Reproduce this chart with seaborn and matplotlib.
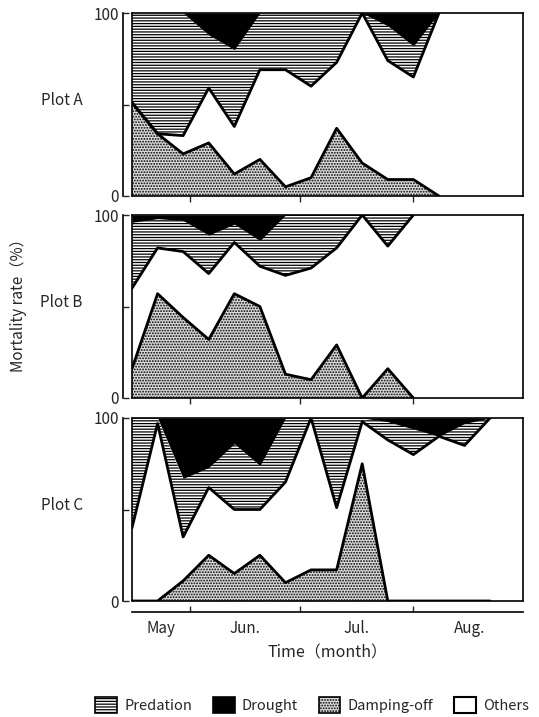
import matplotlib
matplotlib.use("Agg")
import matplotlib.pyplot as plt
from matplotlib.patches import Patch
import pandas as pd
import seaborn as sns

# census days, counted from 1 May (1 Jun = 31, 1 Jul = 61, 1 Aug = 92)
days_a = [15, 22, 29, 36, 43, 50, 57, 64, 71, 78, 85, 92, 99]
days_b = [15, 22, 29, 36, 43, 50, 57, 64, 71, 78, 85, 92]
days_c = [15, 22, 29, 36, 43, 50, 57, 64, 71, 78, 85, 92, 99, 106, 113]

# mortality rate by cause (%) at each census
a_damping = [51, 34, 23, 29, 12, 20, 5, 10, 37, 18, 9, 9, 0]
a_others = [0, 0, 10, 30, 26, 49, 64, 50, 36, 82, 65, 56, 100]
a_predation = [49, 66, 67, 29, 42, 31, 31, 40, 27, 0, 19, 17, 0]
a_drought = [0, 0, 0, 12, 20, 0, 0, 0, 0, 0, 7, 18, 0]

b_damping = [16, 57, 44, 32, 57, 50, 13, 10, 29, 0, 16, 0]
b_others = [44, 25, 36, 36, 28, 22, 54, 61, 53, 100, 67, 100]
b_predation = [36, 16, 17, 21, 10, 14, 33, 29, 18, 0, 17, 0]
b_drought = [4, 2, 3, 11, 5, 14, 0, 0, 0, 0, 0, 0]

c_damping = [0, 0, 11, 25, 15, 25, 10, 17, 17, 75, 0, 0, 0, 0, 0]
c_others = [40, 97, 24, 37, 35, 25, 55, 83, 34, 23, 88, 80, 90, 85, 100]
c_predation = [60, 3, 32, 11, 36, 24, 35, 0, 49, 2, 10, 14, 0, 12, 0]
c_drought = [0, 0, 33, 27, 14, 26, 0, 0, 0, 0, 2, 6, 10, 3, 0]

plot_names = ["Plot A", "Plot B", "Plot C"]
month_names = ["May", "Jun.", "Jul.", "Aug."]
month_mid = [23, 46, 76.5, 107.5]
month_start = [31, 61, 92]
causes = ["Predation", "Drought", "Damping-off", "Others"]

sns.set_style("ticks")
plt.rcParams["font.family"] = ["Noto Sans CJK JP", "DejaVu Sans"]
plt.rcParams["hatch.linewidth"] = 0.9
plt.rcParams["hatch.color"] = "black"

DOTS = "#dcdcdc"

fig = plt.figure(figsize=(5.39, 7.17), dpi=100)
W, H = 539, 717
panels = [
    (days_a, a_damping, a_others, a_predation, a_drought, 196),
    (days_b, b_damping, b_others, b_predation, b_drought, 398),
    (days_c, c_damping, c_others, c_predation, c_drought, 601),
]

for i, (days, dmp, oth, pre, dro, y_bottom) in enumerate(panels):
    ax = fig.add_axes([132 / W, (H - y_bottom) / H, 391 / W, 183 / H])
    df = pd.DataFrame({"day": days, "Damping-off": dmp, "Others": oth,
                       "Predation": pre, "Drought": dro})
    lvl1 = df["Damping-off"]
    lvl2 = lvl1 + df["Others"]
    lvl3 = lvl2 + df["Predation"]
    lvl4 = lvl3 + df["Drought"]

    ax.fill_between(df["day"], 0, lvl1, facecolor=DOTS, hatch="......",
                    edgecolor="black", lw=0)
    ax.fill_between(df["day"], lvl1, lvl2, facecolor="white", lw=0)
    ax.fill_between(df["day"], lvl2, lvl3, facecolor="white", hatch="------",
                    edgecolor="black", lw=0)
    ax.fill_between(df["day"], lvl3, lvl4, facecolor="black", lw=0)
    sns.lineplot(x=df["day"], y=lvl1, color="black", lw=2, ax=ax)
    sns.lineplot(x=df["day"], y=lvl2, color="black", lw=2, ax=ax)

    ax.set_xlim(15, 122)
    ax.set_ylim(0, 100)
    ax.set(xlabel="", ylabel="")
    for s in ax.spines.values():
        s.set_linewidth(1.2)
        s.set_color("black")
    ax.spines["left"].set_position(("outward", 6.5))
    ax.spines["left"].set_bounds(0, 100)
    ax.axvline(15, color="black", lw=1.2, clip_on=False)

    ax.set_yticks([0, 50, 100])
    ax.set_yticklabels(["0", "", "100"], fontsize=11)
    ax.tick_params(axis="y", direction="in", length=4, width=1, pad=3)

    ax.set_xticks(month_start)
    if i < 2:
        ax.set_xticklabels([])
        ax.tick_params(axis="x", direction="out", length=4, width=1)
    else:
        ax.spines["bottom"].set_position(("outward", 8))
        ax.axhline(0, color="black", lw=1.2, clip_on=False)
        ax.set_xticklabels([])
        ax.tick_params(axis="x", which="major", direction="in", length=4, width=1)
        ax.set_xticks(month_mid, minor=True)
        ax.set_xticklabels(month_names, minor=True, fontsize=11)
        ax.tick_params(axis="x", which="minor", length=0, pad=6)
        ax.set_xlabel("Time（month）", fontsize=11.5, labelpad=5)

    ax.text(-0.18, 0.52, plot_names[i], transform=ax.transAxes,
            ha="center", va="center", fontsize=11)

fig.text(18 / W, 1 - 302 / H, "Mortality rate（%）", rotation=90,
         ha="center", va="center", fontsize=11)

handles = [
    Patch(facecolor="white", edgecolor="black", hatch="------", lw=1.2),
    Patch(facecolor="black", edgecolor="black", lw=1.2),
    Patch(facecolor=DOTS, edgecolor="black", hatch="......", lw=1.2),
    Patch(facecolor="white", edgecolor="black", lw=1.5),
]
fig.legend(handles, causes, loc="center", bbox_to_anchor=(312 / W, 1 - 705 / H),
           ncol=4, frameon=False, fontsize=10.5, handlelength=1.5,
           handleheight=1.4, handletextpad=0.5, columnspacing=1.4,
           borderpad=0.2)

plt.savefig("out.png", dpi=100)
